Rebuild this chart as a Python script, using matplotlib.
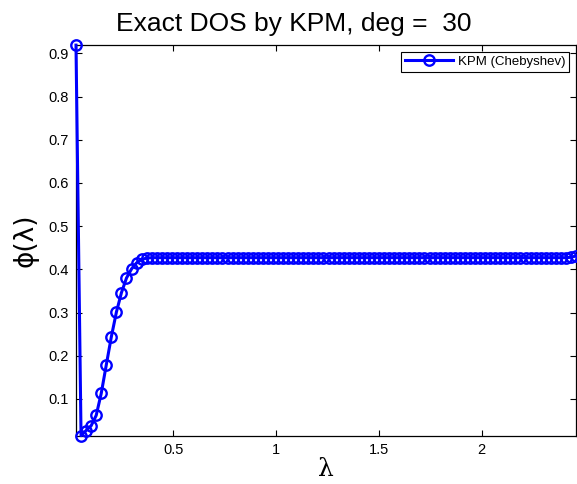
"""
Exact DOS by KPM (Chebyshev), deg = 30 -- recreated figure.
"""

import matplotlib

matplotlib.use("Agg")

import matplotlib.pyplot as plt
import numpy as np
from matplotlib.ticker import FormatStrFormatter

# evaluation grid (100 equally spaced lambda values, as in the original run)
lam_min = 0.027
lam_max = 2.459
n_points = 100

# DOS values
dos = [
    0.919, 0.015, 0.027, 0.038, 0.062, 0.113, 0.179, 0.244, 0.301, 0.346,
    0.380, 0.401, 0.415, 0.423, 0.426, 0.427, 0.427, 0.427, 0.427, 0.427,
    0.427, 0.427, 0.427, 0.427, 0.427, 0.427, 0.427, 0.427, 0.427, 0.427,
    0.427, 0.427, 0.427, 0.427, 0.427, 0.427, 0.427, 0.427, 0.427, 0.427,
    0.427, 0.427, 0.427, 0.427, 0.427, 0.427, 0.427, 0.427, 0.427, 0.427,
    0.427, 0.427, 0.427, 0.427, 0.427, 0.427, 0.427, 0.427, 0.427, 0.427,
    0.427, 0.427, 0.427, 0.427, 0.427, 0.427, 0.427, 0.427, 0.427, 0.427,
    0.427, 0.427, 0.427, 0.427, 0.427, 0.427, 0.427, 0.427, 0.427, 0.427,
    0.427, 0.427, 0.427, 0.427, 0.427, 0.427, 0.427, 0.427, 0.427, 0.427,
    0.427, 0.427, 0.427, 0.427, 0.427, 0.427, 0.427, 0.427, 0.428, 0.431,
]

x_ticks = [0.5, 1, 1.5, 2]
y_ticks = [0.1, 0.2, 0.3, 0.4, 0.5, 0.6, 0.7, 0.8, 0.9]

title = "Exact DOS by KPM, deg =  30"
series_label = "KPM (Chebyshev)"

plt.rcParams["font.family"] = ["Liberation Sans", "DejaVu Sans"]

lam = np.linspace(lam_min, lam_max, n_points)

fig = plt.figure(figsize=(5.77, 4.84), dpi=100)
ax = fig.add_axes([0.1317, 0.0998, 0.8666, 0.807])

ax.plot(
    lam,
    dos,
    color="#0000ff",
    linewidth=2.2,
    marker="o",
    markersize=7.5,
    markerfacecolor="none",
    markeredgewidth=1.7,
    label=series_label,
    clip_on=False,
    zorder=3,
)

ax.set_xlim(lam.min(), lam.max())
ax.set_ylim(min(dos), max(dos))
ax.set_xticks(x_ticks)
ax.set_yticks(y_ticks)
ax.xaxis.set_major_formatter(FormatStrFormatter("%g"))
ax.yaxis.set_major_formatter(FormatStrFormatter("%g"))

ax.tick_params(
    direction="in",
    top=True,
    right=True,
    length=4,
    width=0.8,
    labelsize=10.5,
    pad=5,
)
for spine in ax.spines.values():
    spine.set_linewidth(0.9)

ax.set_xlabel("λ", fontsize=18, family="DejaVu Serif", labelpad=1)
ax.set_ylabel("ϕ(λ)", fontsize=19, family="DejaVu Sans", labelpad=7)

legend = ax.legend(
    loc="upper right",
    fontsize=9.5,
    fancybox=False,
    framealpha=1,
    edgecolor="black",
    handlelength=3.6,
    handletextpad=0.4,
    borderaxespad=0.5,
    borderpad=0.3,
)
legend.get_frame().set_linewidth(0.8)

fig.text(294 / 577, 1 - 31 / 484, title, fontsize=19, ha="center", va="baseline")

fig.savefig("out.png", dpi=100)
plt.close(fig)
